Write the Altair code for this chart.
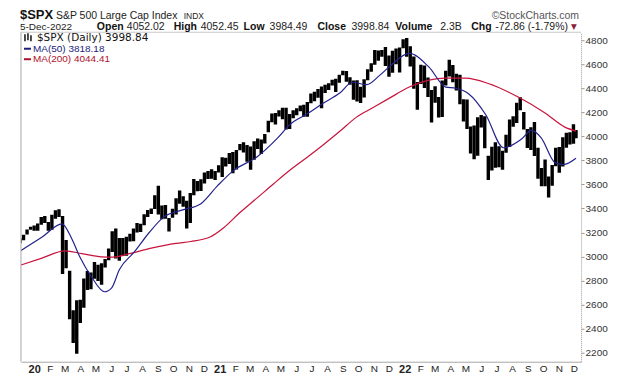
import altair as alt
import pandas as pd

# ---------------- data (weekly high / low) ----------------
first_week_end = "2019-12-06"
highs = [
    3150, 3182, 3226, 3248,
    3258, 3275, 3329, 3338, 3287, 3347, 3385, 3393, 3337, 3137, 2882, 2553, 2637,
    2641, 2818, 2879, 2868, 2954, 2932, 2945, 2980, 3068, 3211, 3233, 3155, 3155,
    3165, 3190, 3233, 3280, 3272, 3352, 3387, 3399, 3509, 3588, 3425, 3428, 3321,
    3397, 3486, 3550, 3501, 3465, 3529, 3646, 3628, 3644, 3699, 3712, 3726, 3712,
    3760, 3826, 3823, 3861, 3870, 3887, 3937, 3950, 3928, 3915, 3960, 3983, 3974,
    4020, 4130, 4191, 4194, 4218, 4238, 4238, 4186, 4218, 4233, 4256, 4262, 4286,
    4356, 4372, 4393, 4415, 4429, 4441, 4470, 4480, 4513, 4545, 4544, 4492, 4465,
    4466, 4412, 4475, 4559, 4608, 4718, 4714, 4718, 4744, 4672, 4713, 4731, 4740,
    4808,
    4819, 4749, 4664, 4453, 4595, 4590, 4489, 4385, 4416, 4327, 4465, 4546, 4637,
    4593, 4521, 4513, 4308, 4307, 4081, 4090, 4158, 4177, 4168, 3838, 3913, 3950,
    3918, 3880, 4013, 4140, 4167, 4280, 4325, 4203, 4062, 4076, 4120, 3906, 3736,
    3807, 3665, 3762, 3905, 3912, 3993, 4029, 4034, 4100,
]
lows = [
    3110, 3135, 3183, 3223,
    3215, 3214, 3264, 3280, 3214, 3223, 3315, 3328, 2855, 2902, 2478, 2280, 2192,
    2447, 2573, 2721, 2727, 2816, 2797, 2766, 2909, 2969, 3038, 2984, 2965, 3004,
    3007, 3125, 3127, 3201, 3204, 3260, 3328, 3354, 3395, 3349, 3310, 3314, 3209,
    3323, 3349, 3440, 3415, 3233, 3280, 3511, 3543, 3545, 3607, 3645, 3647, 3636,
    3700, 3662, 3749, 3770, 3694, 3725, 3884, 3865, 3789, 3723, 3805, 3894, 3853,
    3941, 4035, 4118, 4098, 4165, 4143, 4056, 4061, 4150, 4176, 4209, 4164, 4164,
    4276, 4292, 4322, 4233, 4360, 4385, 4424, 4368, 4446, 4508, 4455, 4430, 4305,
    4289, 4278, 4323, 4466, 4537, 4595, 4630, 4662, 4585, 4495, 4530, 4600, 4531,
    4733,
    4662, 4582, 4395, 4222, 4435, 4402, 4327, 4115, 4279, 4157, 4161, 4424, 4497,
    4450, 4381, 4268, 4124, 4062, 3858, 3810, 3838, 4074, 3900, 3636, 3716, 3738,
    3742, 3722, 3863, 3911, 4079, 4112, 4218, 4057, 3903, 3886, 3837, 3647, 3585,
    3584, 3492, 3590, 3752, 3698, 3749, 3906, 3933, 3938,
]
last_day = "2022-12-05"
last_high, last_low = 4052.45, 3984.49

# moving averages
ma50_dates = ["2019-12-06", "2020-01-16", "2020-02-25", "2020-03-15", "2020-03-31", "2020-04-23",
              "2020-05-19", "2020-06-02", "2020-06-17", "2020-07-17", "2020-08-15", "2020-09-13",
              "2020-10-20", "2020-11-25", "2020-12-28", "2021-01-28", "2021-03-16", "2021-04-25",
              "2021-05-20", "2021-06-22", "2021-07-24", "2021-08-26", "2021-09-20", "2021-10-18",
              "2021-11-12", "2021-12-02", "2022-01-10", "2022-02-18", "2022-03-23", "2022-04-12",
              "2022-05-07", "2022-06-10", "2022-07-15", "2022-08-19", "2022-09-08", "2022-09-27",
              "2022-10-25", "2022-11-10", "2022-12-05"]
ma50_values = [3050, 3160, 3272, 3150, 2998, 2832,
               2707, 2740, 2890, 3040, 3200, 3330,
               3388, 3440, 3590, 3715, 3830, 3985,
               4100, 4185, 4275, 4360, 4450, 4430,
               4505, 4580, 4690, 4576, 4410, 4400,
               4355, 4180, 3905, 3975, 4050, 3990,
               3780, 3765, 3818]

ma200_dates = ["2019-12-06", "2020-01-15", "2020-03-02", "2020-04-04", "2020-05-13", "2020-06-05",
               "2020-07-05", "2020-08-19", "2020-10-07", "2020-11-05", "2020-12-14", "2021-01-09",
               "2021-02-10", "2021-03-16", "2021-04-17", "2021-05-20", "2021-06-22", "2021-07-24",
               "2021-08-26", "2021-09-28", "2021-10-30", "2021-12-02", "2022-01-10", "2022-02-18",
               "2022-03-23", "2022-05-01", "2022-06-15", "2022-08-13", "2022-10-05", "2022-11-13",
               "2022-12-05"]
ma200_values = [2930, 2985, 3047, 3025, 2998, 2995,
                3022, 3070, 3110, 3125, 3165, 3240,
                3366, 3488, 3604, 3720, 3824, 3928,
                4042, 4160, 4238, 4318, 4410, 4468,
                4484, 4484, 4440, 4327, 4194, 4077,
                4044]

y_ticks = [2200, 2400, 2600, 2800, 3000, 3200, 3400, 3600, 3800, 4000, 4200, 4400, 4600, 4800]

# ---------------- tables ----------------
week_mid = pd.date_range(first_week_end, periods=len(highs), freq="W-FRI") - pd.Timedelta(days=2)
price = pd.DataFrame({"date": list(week_mid) + [pd.Timestamp(last_day)],
                      "high": highs + [last_high],
                      "low": lows + [last_low]})
ma50 = pd.DataFrame({"date": pd.to_datetime(ma50_dates), "v": ma50_values})
ma200 = pd.DataFrame({"date": pd.to_datetime(ma200_dates), "v": ma200_values})

W, H = 561, 330
FONT = "Liberation Sans"

xscale = alt.Scale(type="utc",
                   domain=[alt.DateTime(year=2019, month=12, date=6, utc=True),
                           alt.DateTime(year=2022, month=12, date=15, utc=True)])
yscale = alt.Scale(domain=[2125, 4866], nice=False, zero=False)

xaxis = alt.Axis(
    orient="bottom", grid=False, ticks=False, title=None,
    tickCount={"interval": "month", "step": 1},
    labelExpr="utcmonth(datum.value) == 0 ? utcFormat(datum.value, '%y') : slice(utcFormat(datum.value, '%b'), 0, 1)",
    labelFont=FONT, labelColor="#222", labelPadding=2, labelOverlap=False, labelFlush=False,
    labelFontSize={"condition": {"test": "utcmonth(datum.value) == 0", "value": 11}, "value": 10},
    labelFontWeight={"condition": {"test": "utcmonth(datum.value) == 0", "value": "bold"}, "value": "normal"},
    domainColor="#a8a8a8",
)
yaxis = alt.Axis(
    orient="right", grid=False, title=None, values=y_ticks, format="d",
    tickSize=3, tickColor="#9a9a9a", domainColor="#9a9a9a", domainDash=[1, 1],
    labelFont=FONT, labelFontSize=10, labelColor="#333", labelPadding=1,
    labelOverlap=False, labelFlush=False,
)

bars = alt.Chart(price).mark_rule(color="black", strokeWidth=3.4, clip=True).encode(
    x=alt.X("date:T", scale=xscale, axis=xaxis),
    y=alt.Y("low:Q", scale=yscale, axis=yaxis),
    y2="high:Q",
)
line50 = alt.Chart(ma50).mark_line(color="#22228c", strokeWidth=1.2, interpolate="monotone", clip=True).encode(
    x=alt.X("date:T", scale=xscale, axis=xaxis), y=alt.Y("v:Q", scale=yscale, axis=yaxis))
line200 = alt.Chart(ma200).mark_line(color="#c8143c", strokeWidth=1.2, interpolate="monotone", clip=True).encode(
    x=alt.X("date:T", scale=xscale, axis=xaxis), y=alt.Y("v:Q", scale=yscale, axis=yaxis))

one = pd.DataFrame({"k": [0]})


def frame(x, x2, y, y2, color="#a8a8a8", width=1):
    return alt.Chart(one).mark_rule(color=color, strokeWidth=width).encode(
        x=alt.value(x), x2=alt.value(x2), y=alt.value(y), y2=alt.value(y2))


def label(text, x, y, size=11, weight="normal", color="#222", font=FONT, align="left", baseline="alphabetic"):
    return alt.Chart(pd.DataFrame({"t": [text]})).mark_text(
        align=align, baseline=baseline, fontSize=size, fontWeight=weight, color=color, font=font
    ).encode(x=alt.value(x), y=alt.value(y), text="t:N")


OX, OY = 21, 32  # page position of the plot area
L1, L2 = 18.5 - OY, 29.5 - OY

texts = [
    label("$SPX", 20 - OX, L1, size=13, weight="bold", color="#111"),
    label("S&P 500 Large Cap Index", 56 - OX, L1, size=10.5),
    label("INDX", 184 - OX, L1, size=8.5),
    label("\u00a9StockCharts.com", 580 - OX, L1, size=10.5, color="#555", align="right"),
    label("5-Dec-2022", 20 - OX, L2, size=10),
]
line2 = [("Open", 97, True), ("4052.02", 127, False), ("High", 174, True), ("4052.45", 201, False),
         ("Low", 244, True), ("3984.49", 270, False), ("Close", 318, True), ("3998.84", 352, False),
         ("Volume", 396, True), ("2.3B", 441, False), ("Chg", 472, True), ("-72.86 (-1.79%)", 496, False)]
for t, px, b in line2:
    texts.append(label(t, px - OX, L2, size=10.5, weight="bold" if b else "normal", color="#111" if b else "#222"))
texts.append(label("\u25bc", 572 - OX, L2 - 1, size=7.5, color="#8c1c3c", font="DejaVu Sans"))

# legend inside the plot
texts += [
    label("$SPX (Daily) 3998.84", 16, 5.5, size=10.5, font="DejaVu Sans", baseline="middle", color="#111"),
    label("MA(50) 3818.18", 12, 16.5, size=10, color="#1c1c7c", baseline="middle"),
    label("MA(200) 4044.41", 12, 27, size=10, color="#b0102c", baseline="middle"),
]
legend_marks = [
    frame(4, 4, 2, 9, color="#111", width=1.5),
    frame(7, 7, 1, 8, color="#111", width=1.5),
    frame(10, 10, 3, 9, color="#111", width=1.5),
    frame(3, 10, 16.5, 16.5, color="#1c1c7c", width=2),
    frame(3, 10, 27, 27, color="#b0102c", width=2),
]

borders = [
    frame(0, 0, 0, H),          # left
    frame(0, W, 0, 0, color="#c8c8c8"),  # top
]

chart = alt.layer(
    bars, line200, line50, *borders, *legend_marks, *texts
).properties(
    width=W, height=H,
    padding={"left": 13, "top": 24, "right": 39, "bottom": 13},
    autosize=alt.AutoSizeParams(type="none"),
    background="white",
).configure_view(stroke=None)

chart.save("out.html", embed_options={"renderer": "svg", "actions": False})
